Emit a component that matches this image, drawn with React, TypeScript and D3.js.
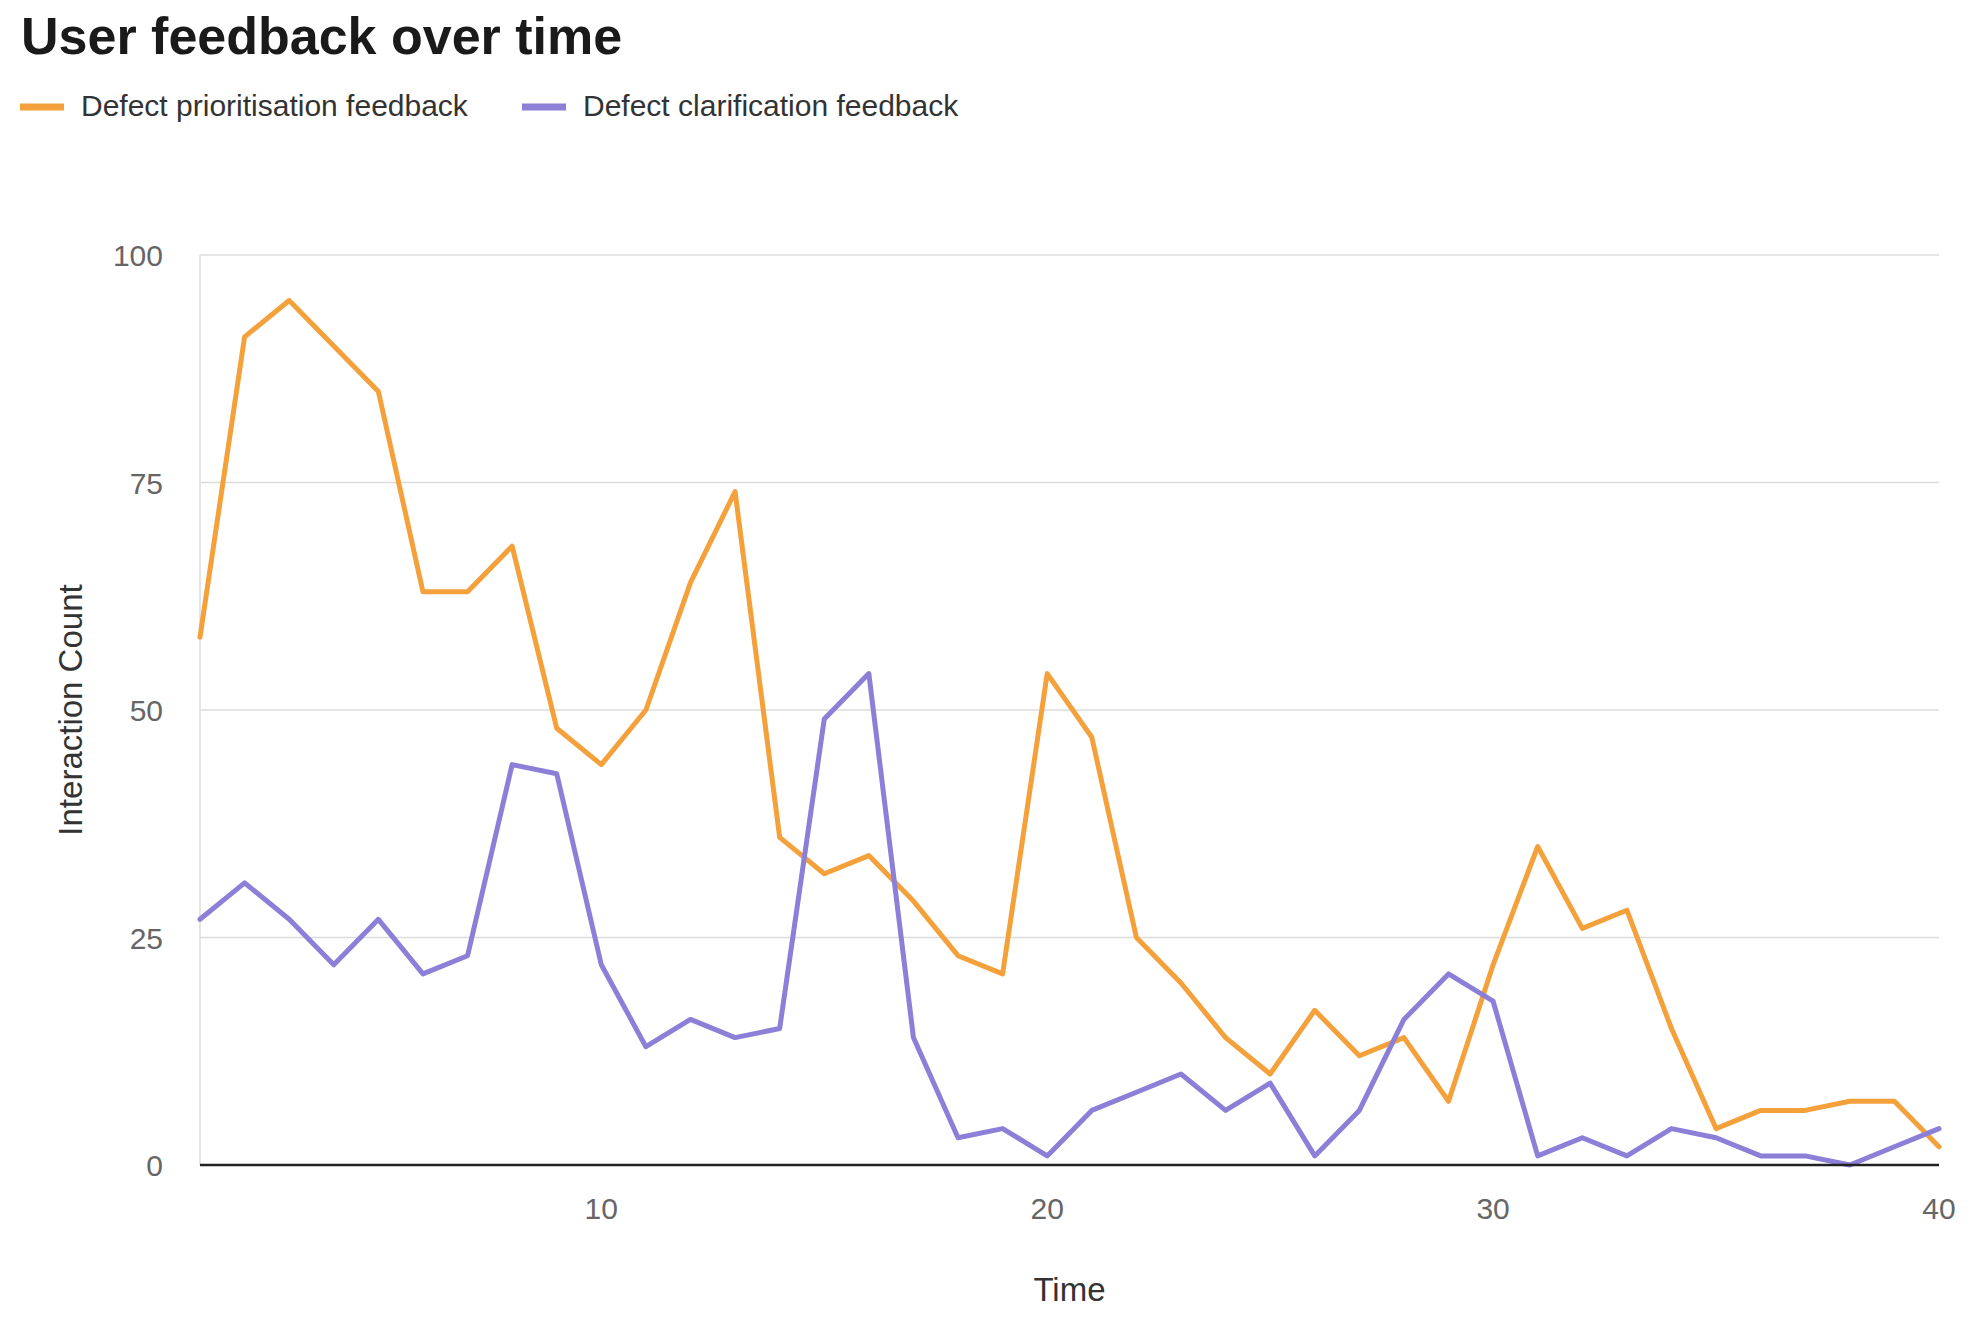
import * as d3 from "d3"

const time = d3.range(1, 41)

const prioritisation = [
    58, 91, 95, 90, 85, 63, 63, 68, 48, 44,
    50, 64, 74, 36, 32, 34, 29, 23, 21, 54,
    47, 25, 20, 14, 10, 17, 12, 14, 7, 22,
    35, 26, 28, 15, 4, 6, 6, 7, 7, 2,
]

const clarification = [
    27, 31, 27, 22, 27, 21, 23, 44, 43, 22,
    13, 16, 14, 15, 49, 54, 14, 3, 4, 1,
    6, 8, 10, 6, 9, 1, 6, 16, 21, 18,
    1, 3, 1, 4, 3, 1, 1, 0, 2, 4,
]

const xTicks = [10, 20, 30, 40]
const yTicks = [0, 25, 50, 75, 100]

const series = [
    { name: "Defect prioritisation feedback", values: prioritisation, color: "#f4a13c" },
    { name: "Defect clarification feedback", values: clarification, color: "#8b7fd8" },
]

const width = 1972
const height = 1335
const margin = { top: 255, right: 33, bottom: 170, left: 200 }
const font = "'Liberation Sans', Arial, sans-serif"

export default function App() {
    const x = d3
        .scaleLinear()
        .domain([1, 40])
        .range([margin.left, width - margin.right])

    const y = d3
        .scaleLinear()
        .domain([0, 100])
        .range([height - margin.bottom, margin.top])

    const line = (values: number[]) =>
        d3
            .line<number>()
            .x((_, i) => x(time[i]))
            .y((d) => y(d))(values) ?? ""

    const legendX = [20, 522]

    return (
        <svg
            width={width}
            height={height}
            viewBox={`0 0 ${width} ${height}`}
            style={{ position: "absolute", left: 0, top: 0, background: "#fff", fontFamily: font }}
        >
            <text x={21} y={54} fontSize={52} fontWeight="bold" fill="#1a1a1a">
                User feedback over time
            </text>

            {/* legend */}
            {series.map((s, i) => (
                <g key={s.name} transform={`translate(${legendX[i]},0)`}>
                    <line x1={0} x2={44} y1={107} y2={107} stroke={s.color} strokeWidth={7} />
                    <text x={61} y={116} fontSize={30} fill="#333">
                        {s.name}
                    </text>
                </g>
            ))}

            {/* grid */}
            {yTicks.filter((t) => t > 0).map((t) => (
                <line key={t} x1={x(1)} x2={x(40)} y1={y(t)} y2={y(t)} stroke="#dcdcdc" strokeWidth={1.5} />
            ))}
            <line x1={x(1)} x2={x(1)} y1={y(100)} y2={y(0)} stroke="#dcdcdc" strokeWidth={1.5} />

            {/* y tick labels */}
            {yTicks.map((t) => (
                <text key={t} x={163} y={y(t) + 11} fontSize={30} fill="#666" textAnchor="end">
                    {t}
                </text>
            ))}

            {/* x tick labels */}
            {xTicks.map((t) => (
                <text key={t} x={x(t)} y={1219} fontSize={30} fill="#666" textAnchor="middle">
                    {t}
                </text>
            ))}

            {/* lines */}
            {series.map((s) => (
                <path
                    key={s.name}
                    d={line(s.values)}
                    fill="none"
                    stroke={s.color}
                    strokeWidth={5}
                    strokeLinejoin="round"
                    strokeLinecap="round"
                />
            ))}

            {/* zero baseline */}
            <line x1={x(1)} x2={x(40)} y1={y(0)} y2={y(0)} stroke="#222" strokeWidth={2.5} />

            <text x={(x(1) + x(40)) / 2} y={1301} fontSize={33} fill="#333" textAnchor="middle">
                Time
            </text>
            <text
                transform={`translate(82,${(y(0) + y(100)) / 2}) rotate(-90)`}
                fontSize={33}
                fill="#333"
                textAnchor="middle"
            >
                Interaction Count
            </text>
        </svg>
    )
}
